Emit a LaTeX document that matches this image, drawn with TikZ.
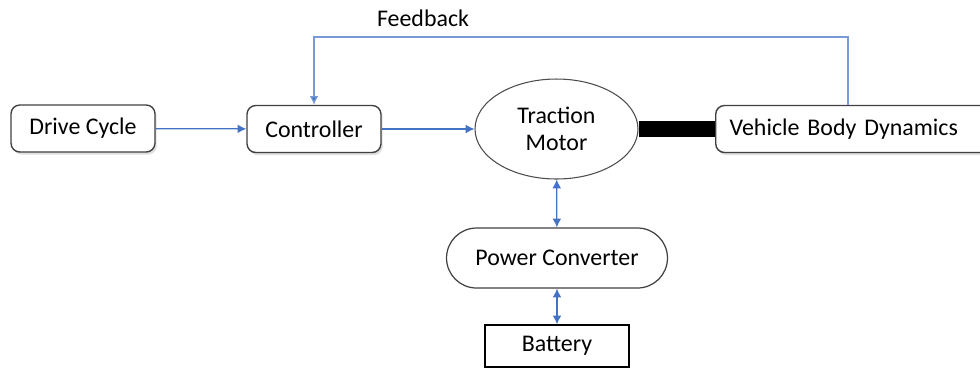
\documentclass[tikz,border=0pt]{standalone}
\usepackage{fontspec}
\setmainfont{Carlito}
\usetikzlibrary{shapes.geometric,arrows.meta,shadows}
\definecolor{linkblue}{RGB}{68,114,196}
\definecolor{fbblue}{RGB}{120,155,215}

\begin{document}
\begin{tikzpicture}[x=0.02cm,y=-0.02cm,font=\fontsize{13.6}{16.5}\selectfont,
	block/.style={draw=black!75,line width=0.8pt,rounded corners=5pt,fill=white,
	minimum height=0.94cm,drop shadow={shadow xshift=1pt,shadow yshift=-1.5pt,opacity=0.25}},
	motor/.style={ellipse,draw=black!70,line width=0.6pt,minimum width=3.26cm,
	minimum height=2cm,align=center,inner sep=0pt},
	conv/.style={draw=black!75,line width=0.7pt,rounded corners=0.6cm,
	minimum width=4.42cm,minimum height=1.2cm},
	link/.style={linkblue,line width=0.7pt,-{Latex[length=5pt,width=5pt]}},
	both/.style={linkblue,line width=0.7pt,{Latex[length=5pt,width=5pt]}-{Latex[length=5pt,width=5pt]}}]
\useasboundingbox (0,0) rectangle (980,370);
\node[block,minimum width=2.88cm] (drive) at (83,128.5) {Drive Cycle};
\node[block,minimum width=2.68cm] (ctrl) at (314,129) {Controller};
\node[motor] (motor) at (556.5,129) {Traction\\[-1pt]Motor};
\node[block,anchor=west,inner xsep=0.28cm,text width=5.3cm,align=left] (body) at (715,129) {Vehicle Body Dynamics};
\node[conv] (pc) at (557,258) {Power Converter};
\node[draw=black,line width=0.8pt,minimum width=2.88cm,minimum height=0.84cm] (bat) at (557,346) {Battery};
\node (fblabel) at (423,18) {Feedback};
\coordinate (fb) at (848,37);
% connectors
\draw[link] (drive) -- (ctrl);
\draw[link] (ctrl) -- (motor);
\draw[line width=0.32cm] (motor.east) -- (body.west);
\draw[both] (motor) -- (pc);
\draw[both] (pc) -- (bat);
\draw[fbblue,line width=0.7pt,-{Latex[length=5pt,width=5pt,fill=linkblue]}] (fb |- body.north) -- (fb) -| (ctrl.north);
\end{tikzpicture}
\end{document}
